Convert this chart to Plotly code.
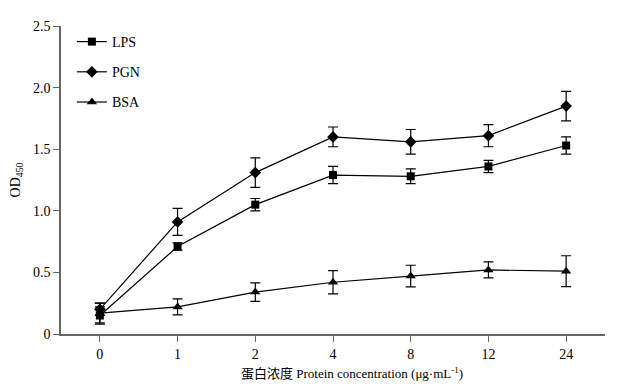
import plotly.graph_objects as go

x_labels = ["0", "1", "2", "4", "8", "12", "24"]
lps = [0.15, 0.71, 1.05, 1.29, 1.28, 1.36, 1.53]
lps_err = [0.07, 0.03, 0.05, 0.07, 0.06, 0.05, 0.07]
pgn = [0.20, 0.91, 1.31, 1.60, 1.56, 1.61, 1.85]
pgn_err = [0.05, 0.11, 0.12, 0.08, 0.10, 0.09, 0.12]
bsa = [0.17, 0.22, 0.34, 0.42, 0.47, 0.52, 0.51]
bsa_err = [0.08, 0.065, 0.075, 0.095, 0.088, 0.065, 0.125]

font_family = "Liberation Serif, Times New Roman, Noto Sans CJK SC, serif"

fig = go.Figure()
series = [
    ("LPS", lps, lps_err, "square", 8),
    ("PGN", pgn, pgn_err, "diamond", 9),
    ("BSA", bsa, bsa_err, "triangle-up", 9),
]
for name, vals, errs, sym, sz in series:
    fig.add_trace(go.Scatter(
        x=x_labels, y=vals, name=name, mode="lines+markers", legendgroup=name,
        line=dict(color="black", width=1.2),
        marker=dict(symbol=sym, size=sz, color="black"),
        error_y=dict(type="data", array=errs, visible=True, color="black", thickness=1.2, width=5),
    ))

fig.update_layout(
    width=617, height=384,
    margin=dict(l=53, r=20, t=18, b=58),
    paper_bgcolor="white", plot_bgcolor="white",
    font=dict(family=font_family, size=14, color="black"),
    showlegend=True,
    legend=dict(x=0.02, y=1.0, xanchor="left", yanchor="top",
                bgcolor="rgba(0,0,0,0)", font=dict(size=14),
                tracegroupgap=9, itemwidth=30),
    xaxis=dict(
        type="category", range=[-0.5, 6.5], automargin=False,
        showline=True, linecolor="#666666", linewidth=1.5,
        ticks="outside", tickcolor="#666666", ticklen=6,
        showgrid=False, zeroline=False,
    ),
    yaxis=dict(
        range=[0, 2.5], tickvals=[0, 0.5, 1.0, 1.5, 2.0, 2.5], automargin=False,
        ticktext=["0", "0.5", "1.0", "1.5", "2.0", "2.5"],
        showline=True, linecolor="#666666", linewidth=1.5,
        ticks="outside", tickcolor="#666666", ticklen=6,
        showgrid=False, zeroline=False,
        title=dict(text="OD<sub>450</sub>", standoff=10, font=dict(size=14)),
    ),
    annotations=[dict(
        text="蛋白浓度 Protein concentration (μg·mL<sup>-1</sup>)",
        xref="paper", yref="paper", x=0.535, y=-0.125, xanchor="center", yanchor="middle",
        showarrow=False, font=dict(size=13),
    )],
)

fig.write_html("out.html")
